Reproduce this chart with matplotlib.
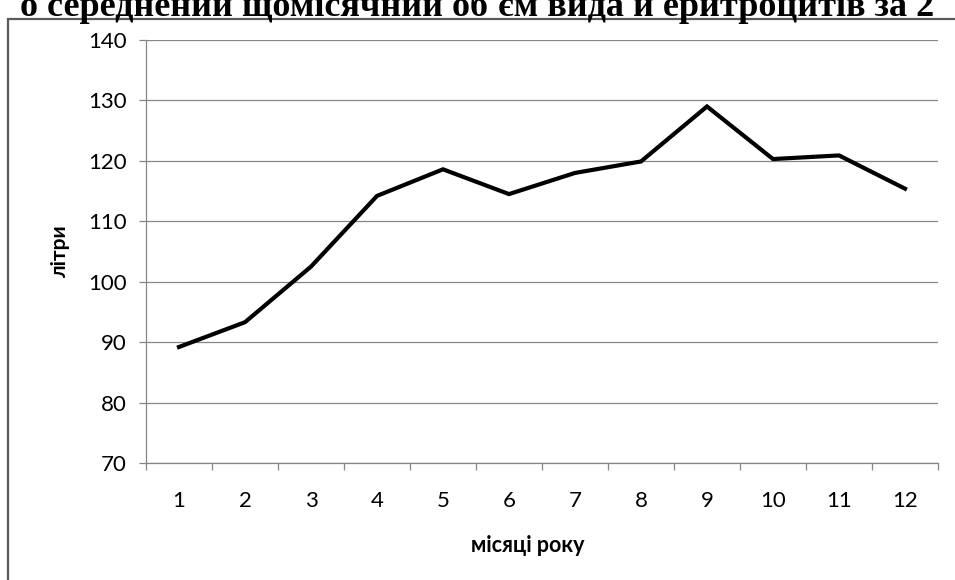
import matplotlib.pyplot as plt
from matplotlib.patches import Rectangle

plt.rcParams['font.family'] = 'Lato'

months = list(range(1, 13))
litres = [89.2, 93.3, 102.5, 114.2, 118.6, 114.5, 118.0, 119.9, 129.0, 120.3, 120.9, 115.4]
y_ticks = [70, 80, 90, 100, 110, 120, 130, 140]
title = "о середнений щомісячний об'єм вида й еритроцитів за 2"

W, H = 955, 580
fig = plt.figure(figsize=(W / 100, H / 100), dpi=100)
fig.patch.set_facecolor('white')

# heading sits above the chart box, its top runs past the image edge
fig.text(0.5, 1 - 16 / H, title, ha='center', va='baseline',
         fontsize=26, fontweight='bold', family='Liberation Serif')

# chart border (only the left and top edges fall inside the image)
fig.patches.append(Rectangle((8 / W, -0.2), 1.2, 1.2 - 19 / H,
                             transform=fig.transFigure, fill=False,
                             edgecolor='#5a5a5a', linewidth=1.6))

ax = fig.add_axes([146 / W, 1 - 463 / H, (938 - 146) / W, (463 - 40) / H])
ax.plot(months, litres, color='black', linewidth=3.0, solid_joinstyle='miter')

ax.set_xlim(0.5, 12.5)
ax.set_ylim(70, 140)
ax.set_yticks(y_ticks)
ax.set_xticks(months)
ax.set_xticks([m + 0.5 for m in range(0, 13)], minor=True)

grid_col = '#868686'
ax.grid(axis='y', color=grid_col, linewidth=0.9)
ax.set_axisbelow(True)
for side in ('top', 'right'):
    ax.spines[side].set_visible(False)
for side in ('left', 'bottom'):
    ax.spines[side].set_color(grid_col)
    ax.spines[side].set_linewidth(0.9)

ax.tick_params(axis='y', direction='out', length=5, width=0.9, color=grid_col,
               labelsize=16, pad=9)
ax.tick_params(axis='x', which='major', length=0, labelsize=16, pad=20)
ax.tick_params(axis='x', which='minor', direction='out', length=5, width=0.9,
               color=grid_col)

fig.text(60 / W, 1 - 251 / H, 'літри', rotation=90, ha='center', va='center',
         fontsize=15, fontweight='bold')
fig.text(528 / W, 1 - 546 / H, 'місяці року', ha='center', va='center',
         fontsize=15.5, fontweight='bold')

fig.savefig('out.png', dpi=100)
